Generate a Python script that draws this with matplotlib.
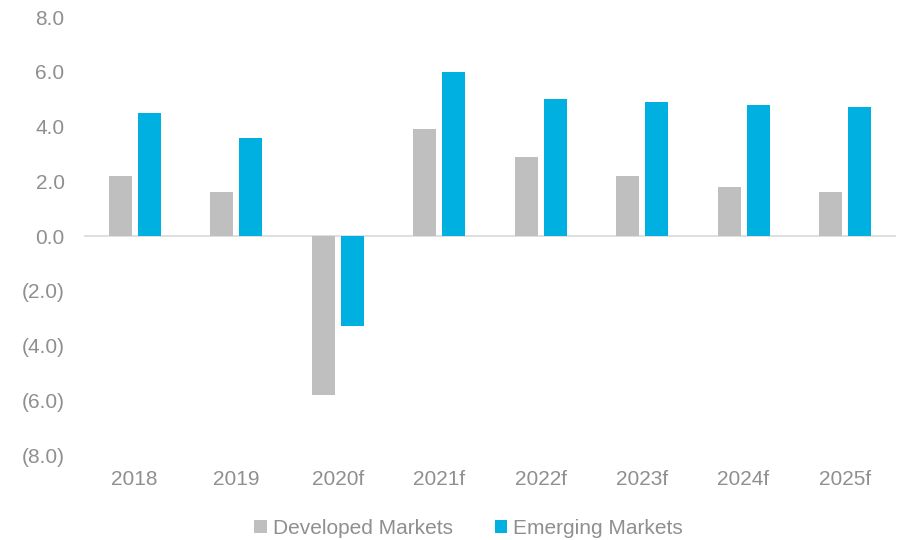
import numpy as np
import matplotlib.pyplot as plt
from matplotlib.ticker import FuncFormatter

years = ["2018", "2019", "2020f", "2021f", "2022f", "2023f", "2024f", "2025f"]
developed = [2.2, 1.6, -5.8, 3.9, 2.9, 2.2, 1.8, 1.6]
emerging = [4.5, 3.6, -3.3, 6.0, 5.0, 4.9, 4.8, 4.7]

plt.rcParams["font.family"] = ["Liberation Sans", "DejaVu Sans"]
text_col = "#8f8f8f"

fig = plt.figure(figsize=(8.97, 5.40), dpi=100)
ax = fig.add_axes([0.0936, 0.157, 0.905, 0.8115])

x = np.arange(len(years))
w = 0.227
ax.bar(x - 0.143, developed, w, color="#bfbfbf", label="Developed Markets")
ax.bar(x + 0.143, emerging, w, color="#00b0e0", label="Emerging Markets")

ax.axhline(0, color="#d9d9d9", linewidth=1.2, zorder=0)
ax.set_xlim(-0.5, len(years) - 0.5)
ax.set_ylim(-8, 8)
ax.set_yticks(np.arange(-8, 8.1, 2))


def fmt(v, pos):
    return f"({abs(v):.1f})" if v < 0 else f"{v:.1f}"


ax.yaxis.set_major_formatter(FuncFormatter(fmt))
ax.set_xticks(x)
ax.set_xticklabels(years)
ax.tick_params(axis="both", length=0, labelsize=15, labelcolor=text_col)
ax.tick_params(axis="y", pad=14)
ax.tick_params(axis="x", pad=11)
for s in ax.spines.values():
    s.set_visible(False)

ax.legend(loc="center", bbox_to_anchor=(0.474, -0.167), ncol=2, frameon=False,
          fontsize=15, labelcolor=text_col, handlelength=0.6, handleheight=0.6,
          handletextpad=0.3, columnspacing=2.0)

fig.savefig("out.png", dpi=100)
